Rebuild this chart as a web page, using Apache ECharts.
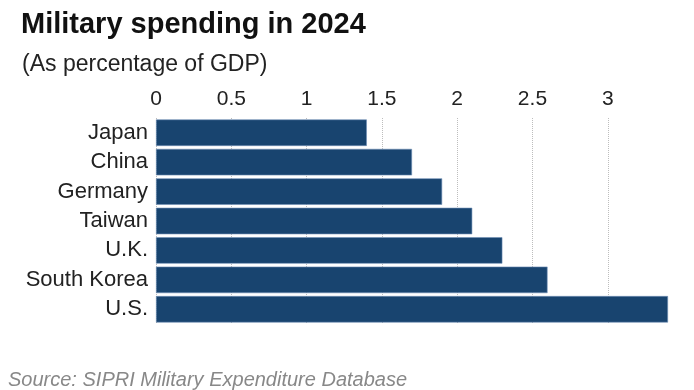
<!DOCTYPE html>
<html><head><meta charset="utf-8">
<script src="https://cdn.jsdelivr.net/npm/echarts@6/dist/echarts.min.js"></script>
<style>html,body{margin:0;padding:0;background:#fff}#c{width:694px;height:390px}</style>
</head><body><div id="c"></div>
<script>
const countries = ["Japan","China","Germany","Taiwan","U.K.","South Korea","U.S."];
const spending = [1.4,1.7,1.9,2.1,2.3,2.6,3.4];
const tickLabels = ["0","0.5","1","1.5","2","2.5","3"];

const chart = echarts.init(document.getElementById('c'), null, {renderer:'canvas'});
const FF = '"Liberation Sans", Arial, sans-serif';
chart.setOption({
  animation:false,
  backgroundColor:'#fff',
  title:[
    {text:'Military spending in 2024', left:16, top:5, textStyle:{fontFamily:FF, fontSize:29, fontWeight:'bold', color:'#111'}},
    {text:'(As percentage of GDP)', left:17, top:48, textStyle:{fontFamily:FF, fontSize:23, fontWeight:'normal', color:'#222'}},
    {text:'Source: SIPRI Military Expenditure Database', left:3, top:365, textStyle:{fontFamily:FF, fontSize:20, fontStyle:'italic', fontWeight:'normal', color:'#888'}}
  ],
  grid:{left:156, right:26, top:118, height:206, containLabel:false},
  xAxis:{
    type:'value', position:'top', min:0, max:3.4, interval:0.5,
    axisLine:{show:false}, axisTick:{show:false},
    splitLine:{show:true, showMaxLine:false, lineStyle:{type:'dotted', color:'#bdbdbd', width:1}},
    axisLabel:{fontFamily:FF, fontSize:21, color:'#222', margin:8, showMaxLabel:false,
      formatter:function(v){ const i=Math.round(v/0.5); return (Math.abs(v-i*0.5)<1e-9 && i<tickLabels.length)?tickLabels[i]:''; }}
  },
  yAxis:{
    type:'category', data:countries, inverse:true,
    axisLine:{show:false}, axisTick:{show:false},
    axisLabel:{fontFamily:FF, fontSize:22, color:'#222', margin:8}
  },
  series:[{
    type:'bar', data:spending, barCategoryGap:'10%',
    itemStyle:{color:'#18446f', borderColor:'#6f8fb5', borderWidth:0.6}
  }]
});
</script></body></html>
